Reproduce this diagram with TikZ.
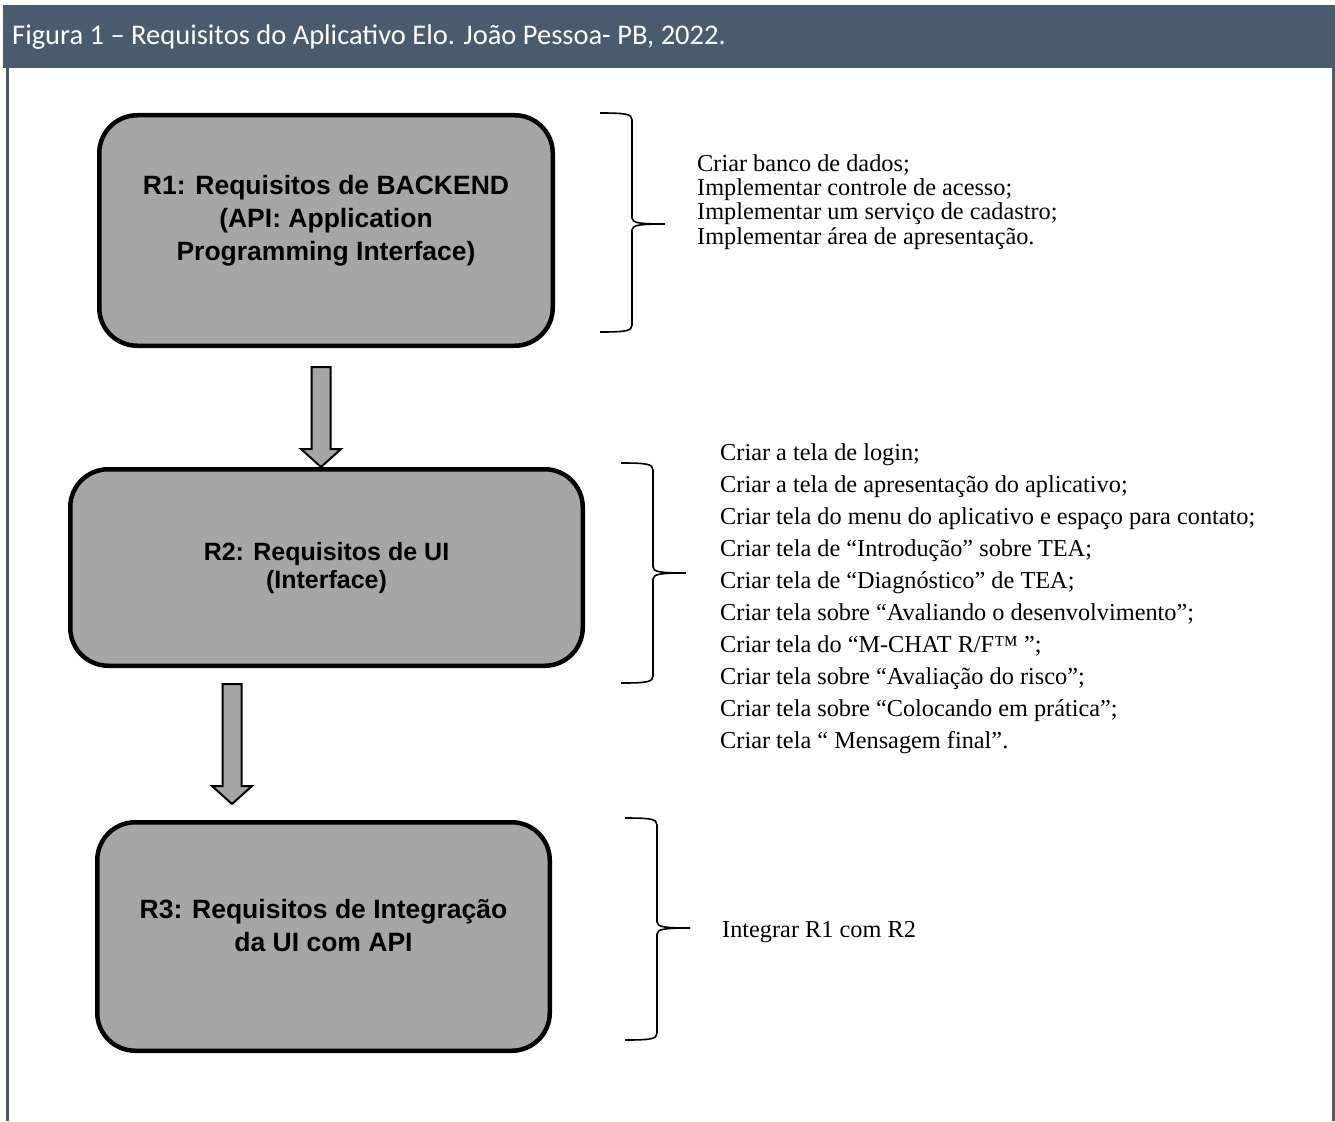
\documentclass[tikz,border=0pt]{standalone}
\usepackage{fontspec}
\setmainfont{Liberation Serif}
\setsansfont{Liberation Sans}
\newfontfamily\headfont{Carlito}
\usetikzlibrary{calc}

\definecolor{headblue}{HTML}{4B5B6F}
\definecolor{boxgray}{HTML}{A6A6A6}

\tikzset{
  reqbox/.style={rectangle, rounded corners=38pt, draw=black, line width=4.5pt, fill=boxgray},
  reqtext/.style={font=\sffamily\bfseries\fontsize{26.5}{33}\selectfont, align=center, inner sep=0},
  listtext/.style={font=\fontsize{24.3}{24.4}\selectfont, align=left, inner sep=0, anchor=north west},
  flowarrow/.style={draw=black, line width=2pt, fill=boxgray, line join=miter},
  bracestroke/.style={draw=black, line width=1.6pt}
}

% block arrow pointing down, from top point #1 to tip #2
\newcommand{\flowarrow}[2]{%
  \draw[flowarrow] let \p1=(#1), \p2=(#2) in
    (\x1-9.5pt,\y1) -- (\x1+9.5pt,\y1) -- (\x1+9.5pt,\y2+18pt) -- (\x1+20pt,\y2+18pt)
    -- (\x1,\y2) -- (\x1-20pt,\y2+18pt) -- (\x1-9.5pt,\y2+18pt) -- cycle;}

% curly brace: stub x, top y, bottom y, middle y
\newcommand{\drawbrace}[4]{%
  \draw[bracestroke] (#1,#2) .. controls ({#1+26},#2) and ({#1+32},{#2+1}) .. ({#1+32},{#2+7})
    -- ({#1+32},{#4-6}) .. controls ({#1+32},{#4-1}) and ({#1+40},#4) .. ({#1+65},#4)
    .. controls ({#1+40},#4) and ({#1+32},{#4+1}) .. ({#1+32},{#4+6})
    -- ({#1+32},{#3-7}) .. controls ({#1+32},{#3-1}) and ({#1+26},#3) .. (#1,#3);}

\begin{document}
\begin{tikzpicture}[x=1pt, y=-1pt]
\useasboundingbox (0,0) rectangle (1335,1121);

% frame and caption bar
\fill[headblue] (3,5) rectangle (1335,68);
\draw[headblue, line width=2.5pt] (7.5,68) -- (7.5,1121);
\draw[headblue, line width=2.5pt] (1333.5,68) -- (1333.5,1121);
\node[anchor=west, inner sep=0, text=white, font=\headfont\fontsize{28.5}{32}\selectfont] (caption) at (12,37)
  {Figura 1 – Requisitos do Aplicativo Elo. João Pessoa- PB, 2022.};

% requirement boxes
\node[reqbox, minimum width=453.5pt, minimum height=230.5pt] (r1) at (326,230.5) {};
\node[reqbox, minimum width=512.5pt, minimum height=196.5pt] (r2) at (326.5,567.5) {};
\node[reqbox, minimum width=452.5pt, minimum height=228.5pt] (r3) at (323.5,936.5) {};

\node[reqtext] (r1text) at ($(r1.center)+(0,-10)$) {R1: Requisitos de BACKEND\\(API: Application\\Programming Interface)};
\node[reqtext, font=\sffamily\bfseries\fontsize{25}{28}\selectfont] (r2text) at ($(r2.center)+(0,1)$) {R2: Requisitos de UI\\(Interface)};
\node[reqtext] (r3text) at ($(r3.center)+(0,-11)$) {R3: Requisitos de Integração\\da UI com API};

% arrows between boxes
\coordinate (a1top) at ($(r1.south)+(-5,19)$);
\coordinate (a1tip) at (a1top |- r2.north);
\coordinate (a2top) at ($(r2.south)+(-94.5,16)$);
\coordinate (a2tip) at ($(a2top |- r3.north)+(0,-16)$);
\flowarrow{a1top}{a1tip}
\flowarrow{a2top}{a2tip}

% braces
\drawbrace{600}{113}{332}{224}
\drawbrace{621}{463}{683}{573}
\drawbrace{625}{818}{1040}{928}

% requirement lists
\node[listtext] (r1list) at (697,154) {Criar banco de dados;\\
  Implementar controle de acesso;\\
  Implementar um serviço de cadastro;\\
  Implementar área de apresentação.};
\node[listtext, font=\fontsize{24.3}{32.1}\selectfont] (r2list) at (720,443) {Criar a tela de login;\\
  Criar a tela de apresentação do aplicativo;\\
  Criar tela do menu do aplicativo e espaço para contato;\\
  Criar tela de “Introdução” sobre TEA;\\
  Criar tela de “Diagnóstico” de TEA;\\
  Criar tela sobre “Avaliando o desenvolvimento”;\\
  Criar tela do “M-CHAT R/F™ ”;\\
  Criar tela sobre “Avaliação do risco”;\\
  Criar tela sobre “Colocando em prática”;\\
  Criar tela “ Mensagem final”.};
\node[listtext, anchor=west] (r3list) at (722,932) {Integrar R1 com R2};

\end{tikzpicture}
\end{document}
